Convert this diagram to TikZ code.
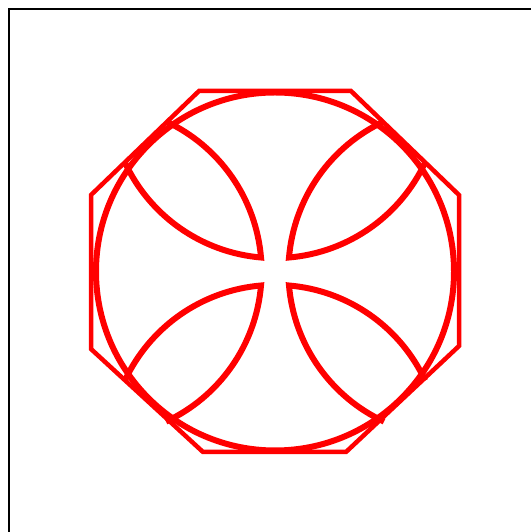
\documentclass[tikz,border=0pt]{standalone}
\begin{document}
\begin{tikzpicture}[x=1pt,y=1pt,
  frameline/.style={black,line width=2pt},
  octline/.style={red,line width=4.5pt,line join=miter},
  crossline/.style={red,line width=6pt,line join=miter}]
\useasboundingbox (0,0) rectangle (531,532);
% frame (top and left edges visible)
\coordinate (f1) at (9,0);
\coordinate (f2) at (9,523);
\coordinate (f3) at (531,523);
\draw[frameline] (f1) -- (f2) -- (f3);
% centre and cardinal points
\coordinate (C) at (275,260.5);
\coordinate (N) at (275,439.5);
\coordinate (S) at (275,81.5);
\coordinate (E) at (454,260.5);
\coordinate (W) at (96,260.5);
% octagon
\coordinate (o1) at (199,441);
\coordinate (o2) at (351,441);
\coordinate (o3) at (459,337);
\coordinate (o4) at (459,186);
\coordinate (o5) at (346,80);
\coordinate (o6) at (203,80);
\coordinate (o7) at (91,183);
\coordinate (o8) at (91,337);
\draw[octline] (o1) -- (o2) -- (o3) -- (o4) -- (o5) -- (o6) -- (o7) -- (o8) -- cycle;
% circle
\draw[crossline] (C) circle[radius=179];
% petals
\draw[crossline] ([shift={(205:165.6)}]N) arc[start angle=205,end angle=265.15,radius=165.6]
  arc[start angle=4.85,end angle=65,radius=165.6];
\draw[crossline] ([shift={(335:165.6)}]N) arc[start angle=335,end angle=274.85,radius=165.6]
  arc[start angle=175.15,end angle=115,radius=165.6];
\draw[crossline] ([shift={(155:165.6)}]S) arc[start angle=155,end angle=94.85,radius=165.6]
  arc[start angle=-4.85,end angle=-65,radius=165.6];
\draw[crossline] ([shift={(25:165.6)}]S) arc[start angle=25,end angle=85.15,radius=165.6]
  arc[start angle=184.85,end angle=245,radius=165.6];
\end{tikzpicture}
\end{document}
